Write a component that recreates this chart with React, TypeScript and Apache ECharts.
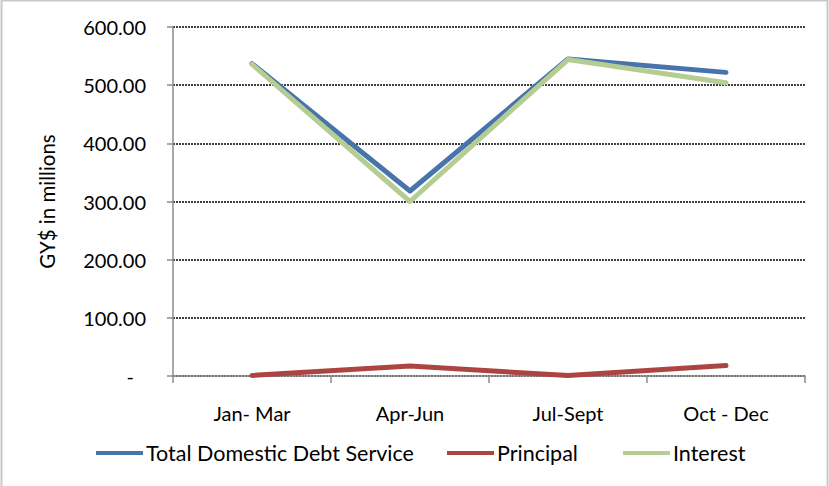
import React, { useEffect, useRef } from "react";
import * as echarts from "echarts";

const categories = ["Jan- Mar", "Apr-Jun", "Jul-Sept", "Oct - Dec"];
const totalService = [537, 318, 545, 522];
const principal = [1, 17, 1, 18];
const interest = [536, 300, 544, 504];
const yTicks = [0, 100, 200, 300, 400, 500, 600];

const FONT = "Lato, 'Open Sans', sans-serif";

export default function App() {
  const ref = useRef<HTMLDivElement>(null);
  useEffect(() => {
    if (!ref.current) return;
    const chart = echarts.init(ref.current, null, { renderer: "svg" });
    const seriesDefs = [
      { name: "Total Domestic Debt Service", data: totalService, color: "#4874AC" },
      { name: "Principal", data: principal, color: "#AC4542" },
      { name: "Interest", data: interest, color: "#B5CC92" },
    ];
    const legendLefts = [96, 447, 623];
    chart.setOption({
      animation: false,
      backgroundColor: "#ffffff",
      grid: { left: 173, right: 24, top: 27, bottom: 110, containLabel: false },
      graphic: [
        {
          type: "rect",
          shape: { x: 1.5, y: 0.5, width: 826, height: 500 },
          style: { fill: "none", stroke: "#c8c8c8", lineWidth: 2 },
          silent: true,
        },
      ],
      legend: seriesDefs.map((s, i) => ({
        data: [s.name],
        left: legendLefts[i],
        top: 442,
        icon: "rect",
        itemWidth: 47,
        itemHeight: 4,
        itemGap: 0,
        padding: 0,
        textStyle: { fontFamily: FONT, fontSize: 21.5, color: "#000", padding: [0, 0, 0, -2] },
      })),
      xAxis: {
        type: "category",
        data: categories,
        boundaryGap: true,
        axisLine: { lineStyle: { color: "#8c8c8c", width: 1.5 } },
        axisTick: { show: true, length: 7, interval: 0, lineStyle: { color: "#8c8c8c", width: 1.5 } },
        axisLabel: { fontFamily: FONT, fontSize: 20, color: "#000", margin: 27 },
        splitLine: { show: false },
      },
      yAxis: {
        type: "value",
        min: yTicks[0],
        max: yTicks[yTicks.length - 1],
        interval: 100,
        name: "GY$ in millions",
        nameLocation: "middle",
        nameGap: 116,
        nameTextStyle: { fontFamily: FONT, fontSize: 20.5, color: "#000" },
        axisLine: { show: true, lineStyle: { color: "#8c8c8c", width: 1.5 } },
        axisTick: { show: true, length: 6, lineStyle: { color: "#8c8c8c", width: 1.5 } },
        axisLabel: {
          fontFamily: FONT,
          fontSize: 20,
          color: "#000",
          margin: 27,
          formatter: (v: number) => (v === 0 ? "{z|-}" : v.toFixed(2)),
          rich: { z: { fontFamily: FONT, fontSize: 20, color: "#000", padding: [0, 12, 0, 0] } },
        },
        splitLine: { show: true, lineStyle: { color: "#000", type: [2, 1], width: 1.5 } },
      },
      series: seriesDefs.map((s) => ({
        name: s.name,
        type: "line",
        data: s.data,
        showSymbol: false,
        symbol: "none",
        itemStyle: { color: s.color },
        lineStyle: { color: s.color, width: 5, cap: "round", join: "round" },
      })),
    });
    return () => chart.dispose();
  }, []);
  return (
    <div
      ref={ref}
      style={{ position: "fixed", left: 0, top: 0, width: 829, height: 486 }}
    />
  );
}
